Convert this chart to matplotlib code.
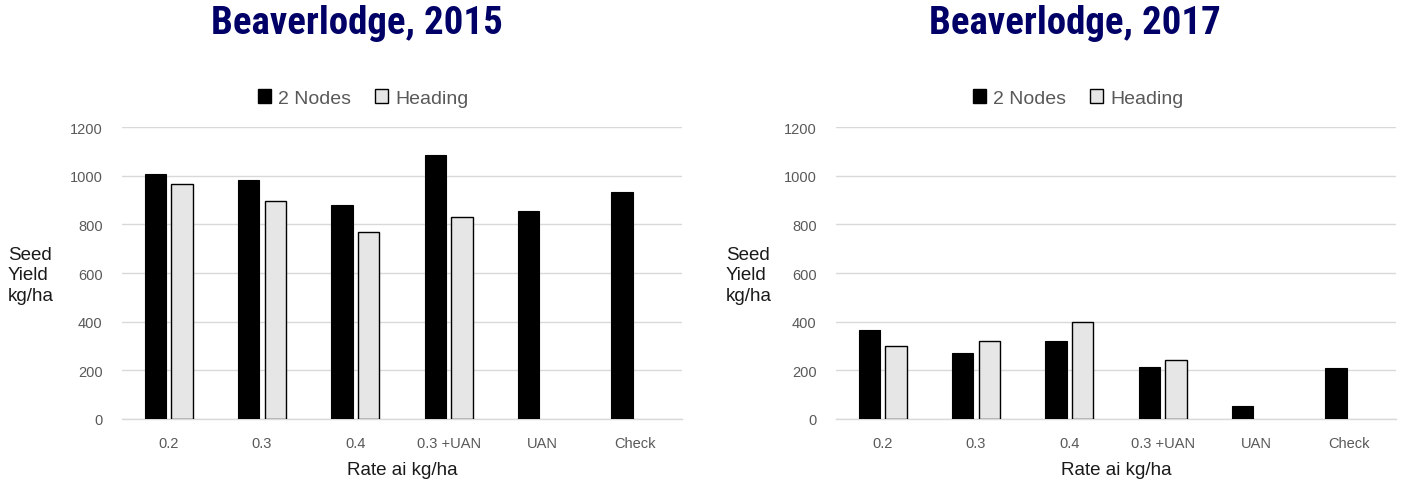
import matplotlib
matplotlib.use("Agg")
import matplotlib.pyplot as plt
import numpy as np
from matplotlib.patches import Patch

categories = ["0.2", "0.3", "0.4", "0.3 +UAN", "UAN", "Check"]
nodes_2015 = [1006, 981, 879, 1086, 853, 933]
heading_2015 = [965, 896, 768, 831, np.nan, np.nan]
nodes_2017 = [364, 270, 321, 215, 52, 211]
heading_2017 = [302, 320, 399, 241, np.nan, np.nan]
titles = ["Beaverlodge, 2015", "Beaverlodge, 2017"]
series_names = ["2 Nodes", "Heading"]
yticks = [0, 200, 400, 600, 800, 1000, 1200]

plt.rcParams['font.family'] = ['Liberation Sans', 'DejaVu Sans']

fig = plt.figure(figsize=(14.03, 4.85), dpi=100)

axes_rects = [[122/1403, 65/485, 560/1403, 292/485],
              [836/1403, 65/485, 560/1403, 292/485]]
title_x = [357/1403, 1075/1403]
legend_x = [363/1403, 1078/1403]
ylabel_x = [8/1403, 726/1403]
data = [(nodes_2015, heading_2015), (nodes_2017, heading_2017)]

tick_col = '#595959'
grid_col = '#d9d9d9'
w = 0.23
off = 0.143

for i in range(2):
    ax = fig.add_axes(axes_rects[i])
    x = np.arange(len(categories))
    n, h = data[i]
    ax.bar(x - off, n, width=w, color='black', edgecolor='black', linewidth=0.8, zorder=3)
    ax.bar(x + off, h, width=w, color='#e6e6e6', edgecolor='black', linewidth=1.0, zorder=3)
    ax.set_xlim(-0.5, len(categories) - 0.5)
    ax.set_ylim(0, 1200)
    ax.set_yticks(yticks)
    ax.set_xticks(x)
    ax.set_xticklabels(categories)
    ax.yaxis.grid(True, color=grid_col, linewidth=1, zorder=0)
    for s in ['top', 'right', 'left']:
        ax.spines[s].set_visible(False)
    ax.spines['bottom'].set_color(grid_col)
    ax.spines['bottom'].set_linewidth(1)
    ax.tick_params(axis='both', length=0, colors=tick_col, labelsize=10.5)
    ax.tick_params(axis='x', pad=12)
    ax.tick_params(axis='y', pad=14)
    ax.set_xlabel("Rate ai kg/ha", fontsize=13.5, color='#1a1a1a', labelpad=8)

    fig.text(title_x[i], 1 - 24/485, titles[i], ha='center', va='center',
             fontsize=28, fontweight='black', color='#000066',
             family=['Roboto Condensed', 'Roboto', 'DejaVu Sans'])
    handles = [Patch(facecolor='black', edgecolor='black'),
               Patch(facecolor='#e6e6e6', edgecolor='black')]
    fig.legend(handles, series_names, loc='center', bbox_to_anchor=(legend_x[i], 1 - 99/485),
               ncol=2, frameon=False, fontsize=14, labelcolor=tick_col,
               handlelength=0.7, handleheight=0.7, handletextpad=0.35, columnspacing=1.2)
    fig.text(ylabel_x[i], 1 - 276/485, "Seed\nYield\nkg/ha", ha='left', va='center',
             fontsize=13.5, color='#1a1a1a', linespacing=1.3)

fig.savefig("out.png", dpi=100)
